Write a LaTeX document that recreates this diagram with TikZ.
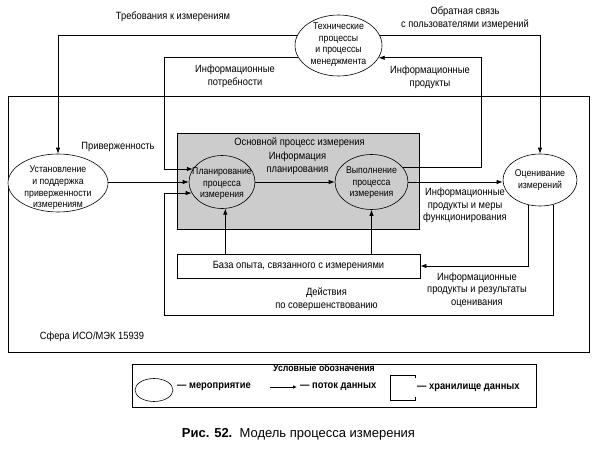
\documentclass[tikz,border=0pt]{standalone}
\usepackage{fontspec}
\setmainfont{Liberation Sans}[FakeStretch=0.89]
\newfontfamily\capfont{Liberation Sans}
\usetikzlibrary{shapes.geometric,arrows.meta}
\begin{document}
\begin{tikzpicture}[x=1pt,y=-1pt,
  evt/.style={draw,ellipse,inner sep=0pt,line width=0.6pt},
  flow/.style={draw,line width=0.8pt,-{Latex[length=6pt,width=4.5pt]}},
  ln/.style={draw,line width=0.8pt},
  lbl/.style={font=\fontsize{10.5}{12.7}\selectfont,align=center,inner sep=0pt},
  etxt/.style={font=\fontsize{9.8}{11.6}\selectfont,align=center,inner sep=0pt},
  lgd/.style={font=\fontsize{10.5}{12}\selectfont\bfseries,inner sep=0pt},
  box/.style={draw,line width=0.8pt,rectangle,inner sep=0pt}]
\useasboundingbox[fill=white] (0,0) rectangle (596,449);

% boxes
\node[box,minimum width=581,minimum height=256] (sphere) at (298.5,224) {};
\node[box,fill=gray!40,minimum width=242,minimum height=96] (main) at (298,181) {};
\node[box,fill=white,minimum width=243,minimum height=24] (base) at (298.5,266) {};
\node[lbl] at (base) {База опыта, связанного с измерениями};
\node[lbl] (maint) at (299.5,143) {Основной процесс измерения};

% ellipses
\node[evt,fill=white,minimum width=87,minimum height=61] (tech) at (338.5,45.5) {};
\node[etxt] at (338.5,44.5) {Технические\\процессы\\и процессы\\менеджмента};
\node[evt,fill=white,minimum width=100,minimum height=58] (est) at (58,183) {};
\node[etxt] at (58,188) {Установление\\и поддержка\\приверженности\\измерениям};
\node[evt,minimum width=66,minimum height=53] (plan) at (222,182) {};
\node[etxt] at (222,184) {Планирование\\процесса\\измерения};
\node[evt,minimum width=73,minimum height=55] (exec) at (371.5,182) {};
\node[etxt] at (371.5,183) {Выполнение\\процесса\\измерения};
\node[evt,fill=white,minimum width=74,minimum height=52] (eval) at (540,180) {};
\node[etxt] at (540,180) {Оценивание\\измерений};

% connectors
\coordinate (n1) at (164,58);
\coordinate (n2) at (164,315);
\coordinate (n3) at (481,58);
\draw[flow] (tech.166) -| (est.north);
\draw[flow] (tech.14) -| (eval.north);
\draw[flow] (tech.197) -| (n1 |- plan.156) -- (plan.156);
\draw[flow] (exec.24) -| (n3 |- tech.343) -- (tech.343);
\draw[flow] (est.east |- plan.west) -- (plan.west);
\draw[flow] (plan.east) -- (exec.west);
\draw[flow] (exec.east) -- (exec.east -| eval.west);
\draw[flow] (eval.298) |- (n2) |- (plan.200);
\draw[flow] (eval.246) |- (base.east);
\draw[flow] (base.north -| plan.277) -- (plan.277);
\draw[flow] (base.north -| exec.south) -- (exec.south);

% labels
\node[lbl] at (173,17) {Требования к измерениям};
\node[lbl] at (465,18.5) {Обратная связь\\с пользователями измерений};
\node[lbl] at (235,76) {Информационные\\потребности};
\node[lbl] at (430,77) {Информационные\\продукты};
\node[lbl] at (118,147) {Приверженность};
\node[lbl] at (297.5,163.5) {Информация\\планирования};
\node[lbl] at (465,205.5) {Информационные\\продукты и меры\\функционирования};
\node[lbl] at (477,290) {Информационные\\продукты и результаты\\оценивания};
\node[lbl] at (326.5,299) {Действия\\по совершенствованию};
\node[lbl] at (92,337) {Сфера ИСО/МЭК 15939};

% legend
\node[box,minimum width=404,minimum height=43] (legend) at (334,385.5) {};
\node[lgd,font=\fontsize{9.8}{11}\selectfont\bfseries] at (324,368) {Условные обозначения};
\node[evt,minimum width=38,minimum height=23] (lev) at (154,390) {};
\node[lgd,anchor=west] at (177,386.5) {— мероприятие};
\coordinate (la1) at (270,387);
\coordinate (la2) at (297,387);
\draw[line width=0.8pt,-{Latex[length=4pt,width=3.5pt]}] (la1) -- (la2);
\node[lgd,anchor=west] at (300,387) {— поток данных};
\draw[ln,line width=0.6pt] (415,378) -- (415,375) -- (390,375) -- (390,400) -- (415,400) -- (415,397);
\node[lgd,anchor=west] at (417,388) {— хранилище данных};

% caption
\node[font=\capfont\fontsize{13}{15}\selectfont,inner sep=0pt] at (298.5,434) {\textbf{Рис. 52.}\ \ Модель процесса измерения};
\end{tikzpicture}
\end{document}
